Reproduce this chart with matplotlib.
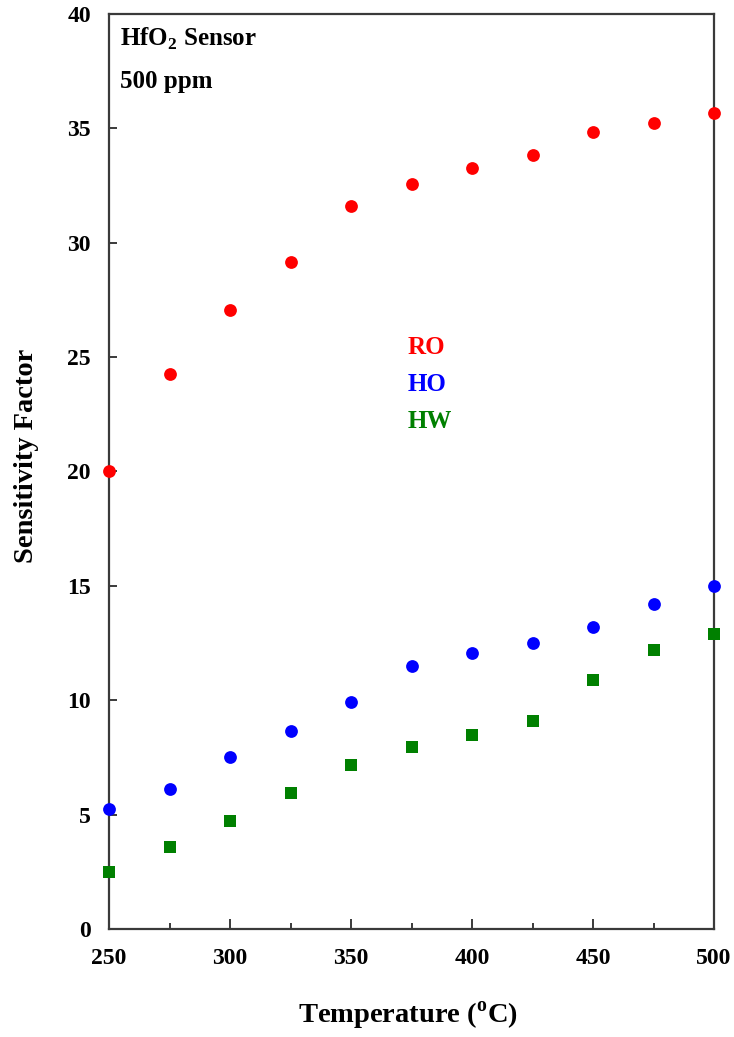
"""Sensitivity factor of the HfO2 sensor versus operating temperature."""

from matplotlib import pyplot as plt
from matplotlib.ticker import MultipleLocator

TEMPS = [250, 275, 300, 325, 350, 375, 400, 425, 450, 475, 500]
RO = [20.0, 24.25, 27.05, 29.15, 31.6, 32.55, 33.25, 33.85, 34.85, 35.25, 35.65]
HO = [5.25, 6.1, 7.5, 8.65, 9.9, 11.5, 12.05, 12.5, 13.2, 14.2, 15.0]
HW = [2.5, 3.6, 4.7, 5.95, 7.15, 7.95, 8.5, 9.1, 10.9, 12.2, 12.9]

SERIES = [("RO", RO, "#ff0000", "o", 9.2),
          ("HO", HO, "#0000ff", "o", 9.2),
          ("HW", HW, "#008000", "s", 8.0)]
"""Label, values, colour, marker and marker size for each gas."""

X_LABEL = r"Temperature ($^{\mathbf{o}}$C)"
Y_LABEL = "Sensitivity Factor"
AXIS_COLOR = "#3a3a3a"

plt.rcParams["font.family"] = "Liberation Serif"
plt.rcParams["font.weight"] = "bold"
plt.rcParams["mathtext.fontset"] = "custom"
plt.rcParams["mathtext.rm"] = "Liberation Serif:bold"
plt.rcParams["mathtext.bf"] = "Liberation Serif:bold"

fig = plt.figure(figsize=(7.34, 10.37), dpi=100)
ax = fig.add_axes([0.1485, 0.1042, 0.8243, 0.8823])

for label, values, color, marker, size in SERIES:
    ax.plot(TEMPS, values, linestyle="none", marker=marker, markersize=size,
            color=color, markeredgewidth=0, clip_on=False, zorder=3)

ax.set_xlim(250, 500)
ax.set_ylim(0, 40)
ax.xaxis.set_major_locator(MultipleLocator(50))
ax.xaxis.set_minor_locator(MultipleLocator(25))
ax.yaxis.set_major_locator(MultipleLocator(5))

for spine in ax.spines.values():
    spine.set_color(AXIS_COLOR)
    spine.set_linewidth(1.6)

ax.tick_params(axis="x", which="major", direction="in", length=7.5,
               width=1.4, color=AXIS_COLOR, pad=14, labelsize=17)
ax.tick_params(axis="x", which="minor", direction="in", length=4,
               width=1.4, color=AXIS_COLOR)
ax.tick_params(axis="y", which="major", direction="in", length=6,
               width=1.4, color=AXIS_COLOR, pad=13, labelsize=17)
for lbl in ax.get_xticklabels() + ax.get_yticklabels():
    lbl.set_fontweight("bold")

# in-plot annotations
ax.text(0.018, 0.965, r"HfO$_\mathbf{2}$ Sensor", transform=ax.transAxes,
        fontsize=18, fontweight="bold", va="baseline")
ax.text(0.018, 0.919, "500 ppm", transform=ax.transAxes,
        fontsize=18, fontweight="bold", va="baseline")

label_y = [0.635, 0.595, 0.555]
for (label, values, color, marker, size), y in zip(SERIES, label_y):
    ax.text(0.494, y, label, transform=ax.transAxes, color=color,
            fontsize=18, fontweight="bold", va="center")

fig.text(0.556, 0.013, X_LABEL, ha="center", va="baseline",
         fontsize=20.5, fontweight="bold")
fig.text(0.036, 0.56, Y_LABEL, ha="center", va="center", rotation=90,
         fontsize=20.5, fontweight="bold")

fig.savefig("out.png", dpi=100)
